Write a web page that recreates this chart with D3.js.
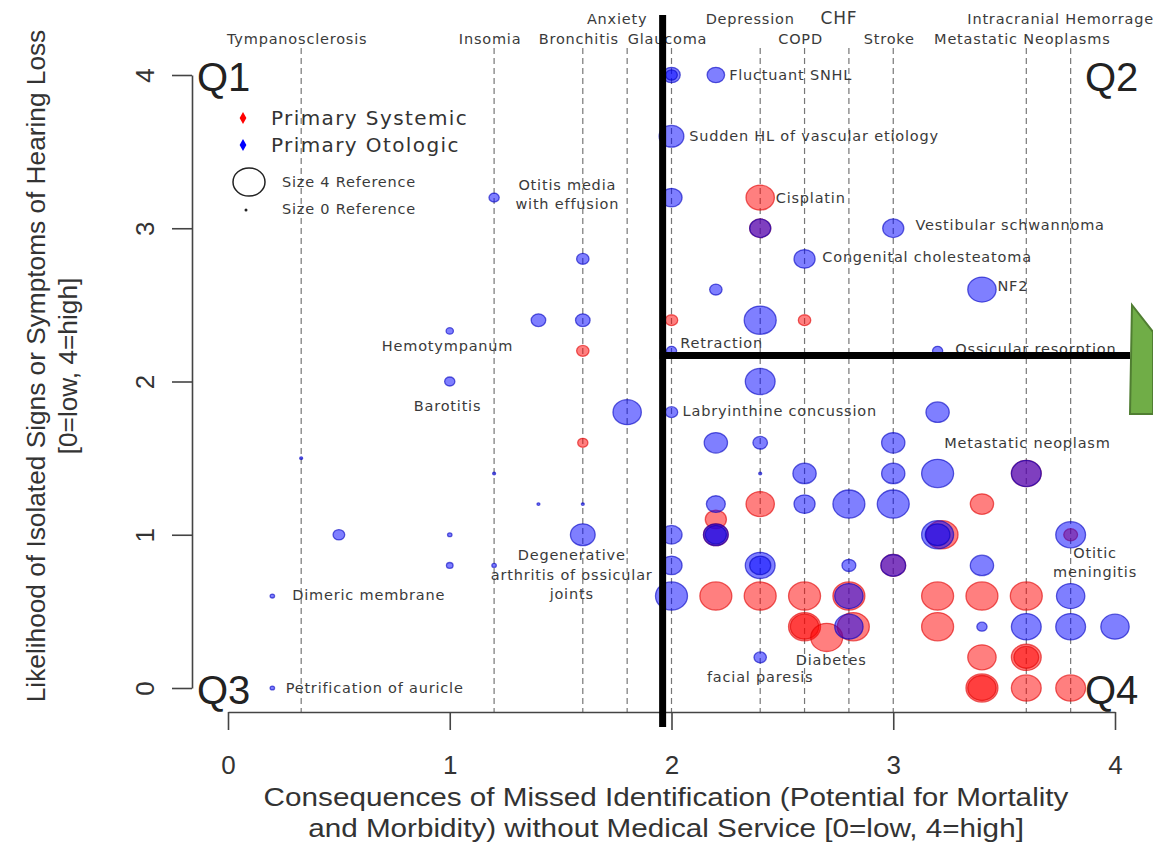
<!DOCTYPE html>
<meta charset="utf-8">
<title>Hearing loss quadrant chart</title>

<style>
body{
	margin: 0;
	background: white;
}
text{
	font-family: "Liberation Sans", Arial, sans-serif;
}
.lbl{
	font-family: "DejaVu Sans", Verdana, sans-serif;
	font-size: 14.5px;
	letter-spacing: 0.8px;
	fill: #3a3a3a;
}
</style>

<body>

<script src="https://d3js.org/d3.v7.min.js"></script>

<script>

var width = 1153;
var height = 844;

// conditions marked along the top (dashed lines)
var condNames = ['Tympanosclerosis', 'Insomia', 'Bronchitis', 'Anxiety', 'Glaucoma', 'Depression', 'COPD', 'CHF', 'Stroke', 'Metastatic Neoplasms', 'Intracranial Hemorrage'];
var condX = [0.33, 1.2, 1.6, 1.8, 2.0, 2.4, 2.6, 2.8, 3.0, 3.6, 3.8];
var condRow = [2, 2, 2, 1, 2, 1, 2, 1, 2, 2, 1];

// primary systemic (red)
var sysX = [1.6, 1.6, 2.4, 2.4, 2.0, 2.6, 3.6, 2.4, 3.4, 2.2, 2.2, 3.22, 3.8, 3.0, 2.2, 2.4, 2.6, 2.8, 3.2, 3.4, 3.6, 2.6, 2.6, 2.7, 2.82, 3.2, 3.4, 3.6, 3.6, 3.4, 3.4, 3.6, 3.8];
var sysY = [2.2, 1.6, 3.2, 3.0, 2.4, 2.4, 1.4, 1.2, 1.2, 1.1, 1.0, 1.0, 1.0, 0.8, 0.6, 0.6, 0.6, 0.6, 0.6, 0.6, 0.6, 0.4, 0.4, 0.33, 0.4, 0.4, 0.2, 0.2, 0.2, 0.0, 0.0, 0.0, 0.0];
var sysSize = [1.3, 1, 3.5, 2.5, 1.3, 1.3, 3.7, 3.5, 2.8, 2.5, 3, 4, 1.5, 3, 4, 4, 4, 4, 4, 4, 4, 4, 3.5, 4, 4, 4, 3.5, 3.7, 3, 4, 3.5, 3.7, 3.7];

// primary otologic (blue)
var otoX = [1.2, 1.6, 1.4, 1.6, 1.0, 1.0, 1.8, 0.33, 1.2, 1.4, 1.6, 1.6, 0.5, 1.0, 1.0, 1.2, 0.2, 0.2,
	2.0, 2.0, 2.2, 2.0, 2.0, 2.4, 3.0, 2.6, 3.4, 2.2, 2.4, 2.0, 3.2,
	2.4, 2.0, 3.2, 2.2, 2.4, 3.0, 2.4, 2.6, 3.0, 3.2, 3.6, 2.2, 2.6, 2.8, 3.0, 2.2, 2.2, 2.0, 3.2, 3.2, 3.8,
	2.4, 2.4, 2.8, 3.0, 3.4, 2.0, 2.0, 2.8, 3.8, 2.8, 3.4, 3.6, 3.8, 4.0, 2.4];
var otoY = [3.2, 2.8, 2.4, 2.4, 2.33, 2.0, 1.8, 1.5, 1.4, 1.2, 1.2, 1.0, 1.0, 1.0, 0.8, 0.8, 0.6, 0.0,
	4.0, 4.0, 4.0, 3.6, 3.2, 3.0, 3.0, 2.8, 2.6, 2.6, 2.4, 2.2, 2.2,
	2.0, 1.8, 1.8, 1.6, 1.6, 1.6, 1.4, 1.4, 1.4, 1.4, 1.4, 1.2, 1.2, 1.2, 1.2, 1.0, 1.0, 1.0, 1.0, 1.0, 1.0,
	0.8, 0.8, 0.8, 0.8, 0.8, 0.8, 0.6, 0.6, 0.6, 0.4, 0.4, 0.4, 0.4, 0.4, 0.2];
var otoSize = [1, 1.3, 1.6, 1.6, 0.6, 1, 3.5, 0, 0, 0, 0, 3, 1.2, 0.2, 0.5, 0.2, 0.2, 0.2,
	2, 1.2, 2, 3, 2.5, 2.5, 2.5, 2.5, 3.5, 1.3, 4, 1, 1,
	3.7, 1.3, 2.8, 2.8, 1.6, 2.8, 0, 2.8, 2.8, 4, 3.7, 2.2, 2.5, 4, 4, 3, 2.5, 2.5, 4, 3, 3.7,
	3.7, 2.5, 1.5, 3, 2.8, 2.5, 4, 3.5, 3.5, 3.5, 1, 3.7, 3.7, 3.5, 1.3];

// point annotations
var labelText = ['Otitis media\nwith effusion', 'Hemotympanum', 'Barotitis', 'Degenerative\narthritis of ossicular\njoints', 'Dimeric membrane', 'Petrification of auricle',
	'Fluctuant SNHL', 'Sudden HL of vascular etiology', 'Cisplatin', 'Vestibular schwannoma', 'Congenital cholesteatoma', 'NF2', 'Retraction', 'Ossicular resorption',
	'Labryinthine concussion', 'Metastatic neoplasm', 'Otitic\nmeningitis', 'Diabetes', 'facial paresis'];
var labelX = [1.53, 0.99, 0.99, 1.55, 0.29, 0.26, 2.26, 2.08, 2.47, 3.1, 2.68, 3.47, 2.04, 3.28, 2.05, 3.23, 3.91, 2.72, 2.4];
var labelY = [3.22, 2.23, 1.84, 0.74, 0.61, 0.0, 4.0, 3.6, 3.2, 3.02, 2.81, 2.62, 2.25, 2.21, 1.81, 1.6, 0.82, 0.18, 0.07];
var labelAnchor = ['middle', 'middle', 'middle', 'middle', 'start', 'start', 'start', 'start', 'start', 'start', 'start', 'start', 'start', 'start', 'start', 'start', 'middle', 'middle', 'middle'];

var axisTicks = [0, 1, 2, 3, 4];
var xTitle = ['Consequences of Missed Identification (Potential for Mortality', 'and Morbidity) without Medical Service [0=low, 4=high]'];
var yTitle = ['Likelihood of Isolated Signs or Symptoms of Hearing Loss', '[0=low, 4=high]'];
var legendNames = ['Primary Systemic', 'Primary Otologic'];
var legendColors = ['red', 'blue'];

// quadrant dividers drawn over the plot
var splitX = 1.96;
var splitY = 2.17;


var x = d3.scaleLinear().domain([0, 4]).range([228, 1115]);
var y = d3.scaleLinear().domain([0, 4]).range([688, 75]);
var r = d3.scaleLinear().domain([0, 4]).range([1.5, 16]);

var svg = d3.select('body')
	.append('svg')
	.attr('width', width)
	.attr('height', height);

// dashed condition lines
svg.append('g')
	.selectAll('line')
	.data(condX)
	.enter()
	.append('line')
	.attr('x1', function(d){ return x(d); })
	.attr('x2', function(d){ return x(d); })
	.attr('y1', 48)
	.attr('y2', 712)
	.attr('stroke', '#777')
	.attr('stroke-width', 1.2)
	.attr('stroke-dasharray', '6,4');

svg.append('g')
	.selectAll('text')
	.data(condNames)
	.enter()
	.append('text')
	.attr('class', 'lbl')
	.attr('x', function(d, i){ return x(condX[i]) - (condRow[i] == 1 ? 10 : 4); })
	.attr('y', function(d, i){ return condRow[i] == 1 ? 24 : 44; })
	.attr('text-anchor', 'middle')
	.style('font-size', function(d){ return d == 'CHF' ? '17px' : null; })
	.text(function(d){ return d; });

// axes
var xAxis = svg.append('g')
	.attr('transform', 'translate(0,712)')
	.call(d3.axisBottom(x).tickValues(axisTicks).tickFormat(d3.format('d')).tickSize(18).tickSizeOuter(0).tickPadding(26));

var yAxis = svg.append('g')
	.attr('transform', 'translate(192,0)')
	.call(d3.axisLeft(y).tickValues(axisTicks).tickFormat(d3.format('d')).tickSize(20).tickSizeOuter(0));

[xAxis, yAxis].forEach(function(a){
	a.select('.domain').attr('stroke', '#444').attr('stroke-width', 1.6);
	a.selectAll('.tick line').attr('stroke', '#444').attr('stroke-width', 1.6);
	a.selectAll('.tick text').attr('fill', '#333').style('font-size', '26px').style('font-family', '"Liberation Sans", Arial, sans-serif');
});

yAxis.selectAll('.tick text')
	.attr('x', null)
	.attr('dy', null)
	.attr('text-anchor', 'middle')
	.attr('dominant-baseline', 'central')
	.attr('transform', 'translate(-47,0) rotate(-90)');

svg.append('g')
	.selectAll('text')
	.data(xTitle)
	.enter()
	.append('text')
	.attr('transform', function(d, i){ return 'translate(666,' + (806 + i * 31) + ') scale(1.12,1)'; })
	.attr('text-anchor', 'middle')
	.attr('fill', '#333')
	.style('font-size', '26.5px')
	.text(function(d){ return d; });

svg.append('g')
	.selectAll('text')
	.data(yTitle)
	.enter()
	.append('text')
	.attr('transform', function(d, i){ return 'translate(' + (36 + i * 32) + ',366) rotate(-90) scale(1.05,1)'; })
	.attr('text-anchor', 'middle')
	.attr('dominant-baseline', 'central')
	.attr('fill', '#333')
	.style('font-size', '25px')
	.text(function(d){ return d; });

// bubbles
function drawPoints(xs, ys, sizes, col, stroke){
	svg.append('g')
		.selectAll('ellipse')
		.data(d3.range(xs.length))
		.enter()
		.append('ellipse')
		.attr('cx', function(i){ return x(xs[i]); })
		.attr('cy', function(i){ return y(ys[i]); })
		.attr('rx', function(i){ return r(sizes[i]); })
		.attr('ry', function(i){ return r(sizes[i]) * 0.88; })
		.attr('fill', col)
		.attr('fill-opacity', 0.5)
		.attr('stroke', stroke)
		.attr('stroke-opacity', 0.6)
		.attr('stroke-width', 1.3);
}
drawPoints(sysX, sysY, sysSize, '#ff0000', '#e00000');
drawPoints(otoX, otoY, otoSize, '#0000ff', '#0000c0');

// annotations
svg.append('g')
	.selectAll('text')
	.data(labelText)
	.enter()
	.append('text')
	.attr('class', 'lbl')
	.attr('text-anchor', function(d, i){ return labelAnchor[i]; })
	.attr('dominant-baseline', 'central')
	.each(function(d, i){
		var lines = d.split('\n');
		var t = d3.select(this);
		lines.forEach(function(l, j){
			t.append('tspan')
				.attr('x', x(labelX[i]))
				.attr('y', y(labelY[i]) + (j - (lines.length - 1) / 2) * 19.5)
				.text(l);
		});
	});

// legend
var legend = svg.append('g');
legendNames.forEach(function(n, i){
	legend.append('path')
		.attr('d', d3.symbol().type(d3.symbolDiamond).size(40))
		.attr('transform', 'translate(243,' + (118 + i * 27) + ')')
		.attr('fill', legendColors[i]);
	legend.append('text')
		.attr('x', 271)
		.attr('y', 118 + i * 27)
		.attr('dominant-baseline', 'central')
		.attr('fill', '#333')
		.style('font-family', '"DejaVu Sans", Verdana, sans-serif')
		.style('font-size', '20px')
		.style('letter-spacing', '1.4px')
		.text(n);
});
legend.append('ellipse')
	.attr('cx', 249).attr('cy', 182)
	.attr('rx', r(4)).attr('ry', r(4) * 0.88)
	.attr('fill', 'none')
	.attr('stroke', '#222')
	.attr('stroke-width', 1.5);
legend.append('ellipse')
	.attr('cx', 246).attr('cy', 210)
	.attr('rx', r(0)).attr('ry', r(0))
	.attr('fill', '#222');
['Size 4 Reference', 'Size 0 Reference'].forEach(function(n, i){
	legend.append('text')
		.attr('class', 'lbl')
		.attr('x', 282)
		.attr('y', 182 + i * 27)
		.attr('dominant-baseline', 'central')
		.text(n);
});

// quadrant dividers
svg.append('line')
	.attr('x1', x(splitX)).attr('x2', x(splitX))
	.attr('y1', 15).attr('y2', 727)
	.attr('stroke', 'black')
	.attr('stroke-width', 7);
svg.append('line')
	.attr('x1', x(splitX) - 3).attr('x2', 1130)
	.attr('y1', y(splitY)).attr('y2', y(splitY))
	.attr('stroke', 'black')
	.attr('stroke-width', 7);

svg.append('polygon')
	.attr('points', '1132,305 1153,332 1153,414 1130,414')
	.attr('fill', '#70ad47')
	.attr('stroke', '#507e32')
	.attr('stroke-width', 2);

// quadrant names
var quadNames = ['Q1', 'Q2', 'Q3', 'Q4'];
svg.append('g')
	.selectAll('text')
	.data(quadNames)
	.enter()
	.append('text')
	.attr('x', function(d, i){ return i % 2 == 0 ? x(0) - 31 : x(4) - 30; })
	.attr('y', function(d, i){ return i < 2 ? y(4) + 16 : y(0) + 16; })
	.attr('fill', '#222')
	.style('font-size', '40px')
	.text(function(d){ return d; });

</script>
</body>
